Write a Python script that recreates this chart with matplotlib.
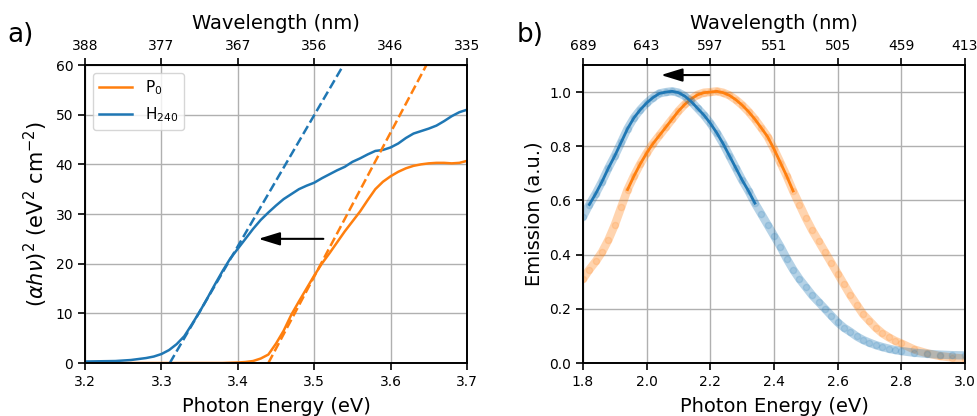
"""Tauc plot (a) and normalised PL emission (b) for P0 vs H240, with wavelength top axes."""
import matplotlib
matplotlib.use("Agg")
import matplotlib.pyplot as plt
import numpy as np

BLUE, ORANGE = "#1f77b4", "#ff7f0e"

# --- panel a: Tauc data (photon energy eV, (alpha h nu)^2) ---
p0_E = [3.20, 3.30, 3.38, 3.40, 3.41, 3.42, 3.43, 3.44, 3.45, 3.46, 3.47, 3.48, 3.49,
        3.50, 3.51, 3.52, 3.53, 3.54, 3.55, 3.56, 3.57, 3.58, 3.59, 3.60, 3.61, 3.62,
        3.63, 3.64, 3.65, 3.66, 3.67, 3.68, 3.69, 3.70]
p0_abs = [0.0, 0.0, 0.0, 0.1, 0.2, 0.4, 0.9, 1.7, 3.9, 6.5, 9.7, 12.4, 15.0,
          17.6, 20.0, 22.1, 24.3, 26.5, 28.5, 30.5, 32.8, 35.0, 36.5, 37.6, 38.5, 39.2,
          39.7, 40.0, 40.2, 40.3, 40.3, 40.2, 40.3, 40.7]
h240_E = [3.20, 3.24, 3.26, 3.28, 3.29, 3.30, 3.31, 3.32, 3.33, 3.34, 3.35, 3.36, 3.37,
          3.38, 3.39, 3.40, 3.41, 3.42, 3.43, 3.44, 3.45, 3.46, 3.47, 3.48, 3.49, 3.50,
          3.51, 3.52, 3.53, 3.54, 3.55, 3.56, 3.57, 3.58, 3.59, 3.60, 3.61, 3.62, 3.63,
          3.64, 3.65, 3.66, 3.67, 3.68, 3.69, 3.70]
h240_abs = [0.3, 0.4, 0.6, 1.0, 1.3, 1.8, 2.6, 3.8, 5.4, 7.8, 10.3, 13.0, 15.8,
            18.5, 21.0, 23.0, 25.0, 27.0, 28.8, 30.3, 31.7, 33.0, 34.0, 35.0, 35.7, 36.3,
            37.2, 38.0, 38.8, 39.5, 40.5, 41.2, 42.0, 42.7, 42.9, 43.4, 44.2, 45.3, 46.2,
            46.7, 47.2, 47.8, 48.7, 49.7, 50.5, 51.0]
# linear Tauc fits: band-gap intercept (eV) and slope
tauc_gap = {"P0": 3.440, "H240": 3.311}
tauc_slope = {"P0": 290.0, "H240": 264.0}

# --- panel b: emission (normalised) ---
pl_E = [1.80, 1.82, 1.84, 1.86, 1.88, 1.90, 1.92, 1.94, 1.96, 1.98, 2.00, 2.02, 2.04,
        2.06, 2.08, 2.10, 2.12, 2.14, 2.16, 2.18, 2.20, 2.22, 2.24, 2.26, 2.28, 2.30,
        2.32, 2.34, 2.36, 2.38, 2.40, 2.42, 2.44, 2.46, 2.48, 2.50, 2.52, 2.54, 2.56,
        2.58, 2.60, 2.62, 2.64, 2.66, 2.68, 2.70, 2.72, 2.74, 2.76, 2.78, 2.80, 2.84,
        2.88, 2.92, 2.96, 3.00]
pl_h240 = [0.54, 0.585, 0.625, 0.67, 0.72, 0.765, 0.815, 0.865, 0.905, 0.935, 0.96, 0.98, 0.995,
           1.0, 1.003, 0.998, 0.985, 0.965, 0.94, 0.915, 0.885, 0.85, 0.81, 0.765, 0.72, 0.675,
           0.635, 0.59, 0.55, 0.51, 0.47, 0.43, 0.385, 0.345, 0.31, 0.28, 0.25, 0.225, 0.20,
           0.175, 0.15, 0.13, 0.115, 0.098, 0.085, 0.075, 0.066, 0.059, 0.053, 0.048, 0.044, 0.038,
           0.034, 0.031, 0.029, 0.028]
pl_p0 = [0.31, 0.345, 0.375, 0.41, 0.455, 0.51, 0.575, 0.64, 0.69, 0.735, 0.775, 0.81, 0.84,
         0.87, 0.90, 0.93, 0.955, 0.975, 0.99, 0.998, 1.0, 1.003, 0.998, 0.988, 0.972, 0.952,
         0.928, 0.90, 0.868, 0.835, 0.79, 0.74, 0.69, 0.635, 0.585, 0.535, 0.49, 0.45, 0.41,
         0.37, 0.33, 0.29, 0.25, 0.215, 0.18, 0.155, 0.13, 0.11, 0.095, 0.082, 0.072, 0.05,
         0.036, 0.026, 0.02, 0.016]
fit_range = {"H240": (1.82, 2.34), "P0": (1.93, 2.47)}

# top-axis wavelength labels (nm)
wl_a_ticks = [3.2, 3.3, 3.4, 3.5, 3.6, 3.7]
wl_a_labels = ["388", "377", "367", "356", "346", "335"]
wl_b_ticks = [1.8, 2.0, 2.2, 2.4, 2.6, 2.8, 3.0]
wl_b_labels = ["689", "643", "597", "551", "505", "459", "413"]

plt.rcParams.update({
    "font.family": "DejaVu Sans", "axes.linewidth": 1.2,
    "xtick.major.width": 1.2, "ytick.major.width": 1.2,
    "xtick.major.size": 5, "ytick.major.size": 5,
    "xtick.labelsize": 10, "ytick.labelsize": 10,
})
LBL = 14
ARROW = dict(arrowstyle="-|>,head_length=0.65,head_width=0.2",
             color="k", lw=1.5, mutation_scale=20, shrinkA=0, shrinkB=0)

fig = plt.figure(figsize=(9.78, 4.16), dpi=100)
ax_a = fig.add_axes([0.0869, 0.1274, 0.3906, 0.7163])
ax_b = fig.add_axes([0.5961, 0.1274, 0.3906, 0.7163])

# ---- a) ----
ax_a.plot(p0_E, p0_abs, color=ORANGE, lw=1.8, label="P$_0$")
ax_a.plot(h240_E, h240_abs, color=BLUE, lw=1.8, label="H$_{240}$")
for key, col in (("P0", ORANGE), ("H240", BLUE)):
    x = np.array([tauc_gap[key], tauc_gap[key] + 60.0 / tauc_slope[key]])
    ax_a.plot(x, tauc_slope[key] * (x - tauc_gap[key]), ls="--", color=col, lw=1.8)
ax_a.annotate("", xy=(3.427, 25), xytext=(3.512, 25), arrowprops=ARROW)
ax_a.set_xlim(3.2, 3.7)
ax_a.set_ylim(0, 60)
ax_a.set_xticks(wl_a_ticks)
ax_a.grid(True, color="#b0b0b0", lw=1)
ax_a.set_xlabel("Photon Energy (eV)", fontsize=LBL, labelpad=6)
ax_a.set_ylabel(r"$(\alpha h\nu)^2$ (eV$^2$ cm$^{-2}$)", fontsize=LBL + 1)
ax_a.legend(loc="upper left", fontsize=11, handlelength=2.2)
top_a = ax_a.twiny()
top_a.set_xlim(ax_a.get_xlim())
top_a.set_xticks(wl_a_ticks)
top_a.set_xticklabels(wl_a_labels)
top_a.set_xlabel("Wavelength (nm)", fontsize=LBL, labelpad=7)

# ---- b) ----
E = np.array(pl_E)
for key, vals, col in (("P0", pl_p0, ORANGE), ("H240", pl_h240, BLUE)):
    v = np.array(vals)
    ax_b.plot(E, v, color=col, lw=6, alpha=0.33, solid_capstyle="round")
    ax_b.plot(E, v, "o", color=col, ms=4.5, alpha=0.15, mew=1)
    lo, hi = fit_range[key]
    m = (E >= lo - 1e-9) & (E <= hi + 1e-9)
    ax_b.plot(E[m], v[m], color=col, lw=2)
ax_b.annotate("", xy=(2.045, 1.063), xytext=(2.197, 1.063), arrowprops=ARROW)
ax_b.set_xlim(1.8, 3.0)
ax_b.set_ylim(0, 1.1)
ax_b.set_xticks(wl_b_ticks)
ax_b.set_yticks([0.0, 0.2, 0.4, 0.6, 0.8, 1.0])
ax_b.grid(True, color="#b0b0b0", lw=1)
ax_b.set_xlabel("Photon Energy (eV)", fontsize=LBL, labelpad=6)
ax_b.set_ylabel("Emission (a.u.)", fontsize=LBL)
top_b = ax_b.twiny()
top_b.set_xlim(ax_b.get_xlim())
top_b.set_xticks(wl_b_ticks)
top_b.set_xticklabels(wl_b_labels)
top_b.set_xlabel("Wavelength (nm)", fontsize=LBL, labelpad=7)

fig.text(0.008, 0.90, "a)", fontsize=19)
fig.text(0.528, 0.90, "b)", fontsize=19)

fig.savefig("out.png", dpi=100)
